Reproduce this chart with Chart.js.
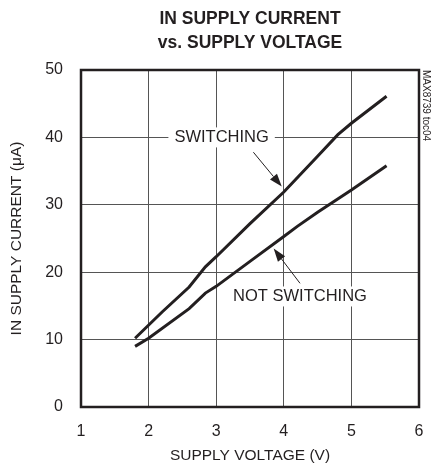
<!DOCTYPE html>
<html>
<head>
<meta charset="utf-8">
<script src="https://cdn.jsdelivr.net/npm/chart.js@4.4.0/dist/chart.umd.min.js"></script>
<style>
  html, body { margin: 0; padding: 0; background: #fff; overflow: hidden; }
  #wrap { width: 431px; height: 473px; position: relative; overflow: hidden; }
  #chart { display: block; }
</style>
</head>
<body>
<div id="wrap"><canvas id="chart"></canvas></div>
<script>
//------------------------------------------- Data -------------------------------------------//
const title_lines = ['IN SUPPLY CURRENT', 'vs. SUPPLY VOLTAGE'];
const x_label = 'SUPPLY VOLTAGE (V)';
const y_label = 'IN SUPPLY CURRENT (\u03bcA)';
const side_label = 'MAX8739 toc04';

// supply voltage (V) / current (uA)
const switching_v = [1.8, 2.2, 2.6, 2.84, 3.0, 3.5, 4.0, 4.5, 4.8, 5.0, 5.52];
const switching_i = [10.2, 14.1, 17.8, 20.8, 22.3, 27.2, 31.9, 37.2, 40.4, 42.1, 46.1];

const notsw_v = [1.8, 2.0, 2.6, 2.84, 3.0, 3.5, 4.0, 4.2, 4.5, 5.0, 5.52];
const notsw_i = [9.0, 10.2, 14.6, 16.9, 17.9, 21.6, 25.3, 26.8, 28.9, 32.2, 35.8];

const x_ticks = [1, 2, 3, 4, 5, 6];
const y_ticks = [0, 10, 20, 30, 40, 50];

// annotation: text position and arrow (data units)
const notes = [
    {text: 'SWITCHING', at: [3.08, 40], from: [3.55, 37.8], to: [3.97, 32.7]},
    {text: 'NOT SWITCHING', at: [4.24, 16.4], from: [4.24, 18.35], to: [3.85, 23.5]}
];

//------------------------------------------- Styles -------------------------------------------//
const font_family = "'Liberation Sans', Arial, Helvetica, sans-serif";
const ink = '#231f20';

function toPoints(xs, ys) {
    return xs.map((x, i) => ({x: x, y: ys[i]}));
}

// titles, side label, annotations and the heavy frame
const decorations = {
    id: 'decorations',
    beforeDatasetsDraw(chart) {
        const ctx = chart.ctx;
        const sx = chart.scales.x, sy = chart.scales.y;
        ctx.save();
        ctx.font = '16.5px ' + font_family;
        ctx.textAlign = 'center';
        ctx.textBaseline = 'middle';
        notes.forEach(n => {
            const px = sx.getPixelForValue(n.at[0]);
            const py = sy.getPixelForValue(n.at[1]);
            const w = ctx.measureText(n.text).width;
            ctx.fillStyle = '#fff';
            ctx.fillRect(px - w / 2 - 6, py - 10, w + 12, 20);
            ctx.fillStyle = ink;
            ctx.fillText(n.text, px, py);
        });
        ctx.restore();
    },
    afterDatasetsDraw(chart) {
        const ctx = chart.ctx;
        const a = chart.chartArea;
        const sx = chart.scales.x, sy = chart.scales.y;
        ctx.save();
        // arrows
        notes.forEach(n => {
            const x1 = sx.getPixelForValue(n.from[0]), y1 = sy.getPixelForValue(n.from[1]);
            const x2 = sx.getPixelForValue(n.to[0]), y2 = sy.getPixelForValue(n.to[1]);
            const ang = Math.atan2(y2 - y1, x2 - x1);
            const hl = 13, hw = 4.5;
            const bx = x2 - hl * Math.cos(ang), by = y2 - hl * Math.sin(ang);
            ctx.strokeStyle = ink;
            ctx.lineWidth = 1;
            ctx.beginPath();
            ctx.moveTo(x1, y1);
            ctx.lineTo(bx, by);
            ctx.stroke();
            ctx.fillStyle = ink;
            ctx.beginPath();
            ctx.moveTo(x2, y2);
            ctx.lineTo(bx + hw * Math.sin(ang), by - hw * Math.cos(ang));
            ctx.lineTo(bx - hw * Math.sin(ang), by + hw * Math.cos(ang));
            ctx.closePath();
            ctx.fill();
        });
        // frame
        ctx.strokeStyle = ink;
        ctx.lineWidth = 2.5;
        ctx.strokeRect(a.left, a.top, a.right - a.left, a.bottom - a.top);
        // title
        const cx = (a.left + a.right) / 2;
        ctx.fillStyle = ink;
        ctx.textAlign = 'center';
        ctx.textBaseline = 'alphabetic';
        ctx.font = 'bold 17.5px ' + font_family;
        ctx.fillText(title_lines[0], cx, 24);
        ctx.fillText(title_lines[1], cx, 48);
        // side label
        ctx.translate(a.right + 6.5, a.top);
        ctx.rotate(Math.PI / 2);
        ctx.font = '10px ' + font_family;
        ctx.textAlign = 'left';
        ctx.textBaseline = 'middle';
        ctx.fillText(side_label, 0, 0);
        ctx.restore();
    }
};

//------------------------------------------- Chart -------------------------------------------//
const lineStyle = {
    borderColor: ink,
    borderWidth: 3,
    pointRadius: 0,
    fill: false,
    tension: 0
};

new Chart(document.getElementById('chart'), {
    type: 'scatter',
    data: {
        datasets: [
            Object.assign({label: 'SWITCHING', data: toPoints(switching_v, switching_i), showLine: true}, lineStyle),
            Object.assign({label: 'NOT SWITCHING', data: toPoints(notsw_v, notsw_i), showLine: true}, lineStyle)
        ]
    },
    options: {
        responsive: true,
        maintainAspectRatio: false,
        animation: false,
        layout: {padding: {top: 70, right: 12, left: 0, bottom: 0}},
        plugins: {
            legend: {display: false},
            tooltip: {enabled: false}
        },
        scales: {
            x: {
                type: 'linear',
                min: 1, max: 6,
                afterFit(scale) {
                    scale.height = 66;
                    scale.paddingLeft = 0;
                    scale.paddingRight = 0;
                },
                afterBuildTicks(scale) { scale.ticks = x_ticks.map(v => ({value: v})); },
                grid: {color: '#555', lineWidth: 1, drawTicks: false},
                border: {display: false},
                ticks: {color: ink, padding: 15, font: {family: font_family, size: 16}},
                title: {display: true, text: x_label, color: ink, padding: {top: 0, bottom: 8},
                        font: {family: font_family, size: 15.5}}
            },
            y: {
                type: 'linear',
                min: 0, max: 50,
                afterFit(scale) { scale.width = 81; },
                afterBuildTicks(scale) { scale.ticks = y_ticks.map(v => ({value: v})); },
                grid: {color: '#555', lineWidth: 1, drawTicks: false},
                border: {display: false},
                ticks: {color: ink, padding: 18, font: {family: font_family, size: 16}},
                title: {display: true, text: y_label, color: ink, padding: {top: 7, bottom: 0},
                        font: {family: font_family, size: 15.5}}
            }
        }
    },
    plugins: [decorations]
});
</script>
</body>
</html>
